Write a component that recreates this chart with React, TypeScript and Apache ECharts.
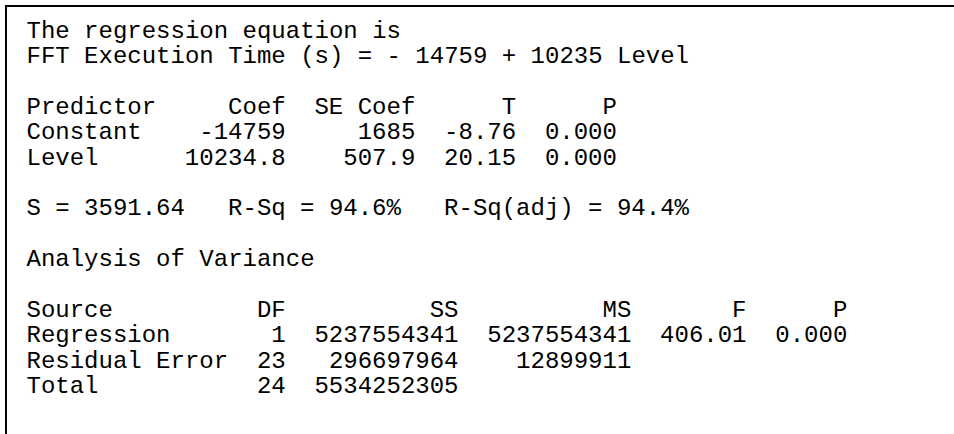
import React, { useEffect, useRef } from "react";
import * as echarts from "echarts";

// ---- data ----
const equationLines = [
  "The regression equation is",
  "FFT Execution Time (s) = - 14759 + 10235 Level",
];

const predictorHeader = ["Predictor", "Coef", "SE Coef", "T", "P"];
const predictors = ["Constant", "Level"];
const coefValues = ["-14759", "10234.8"];
const seCoefValues = ["1685", "507.9"];
const tValues = ["-8.76", "20.15"];
const pValues = ["0.000", "0.000"];

const summaryTexts = ["S = 3591.64", "R-Sq = 94.6%", "R-Sq(adj) = 94.4%"];

const anovaTitle = "Analysis of Variance";
const anovaHeader = ["Source", "DF", "SS", "MS", "F", "P"];
const anovaSources = ["Regression", "Residual Error", "Total"];
const dfValues = ["1", "23", "24"];
const ssValues = ["5237554341", "296697964", "5534252305"];
const msValues = ["5237554341", "12899911", ""];
const fValues = ["406.01", "", ""];
const anovaP = ["0.000", "", ""];

// ---- layout (monospace grid) ----
const FONT_SIZE = 24;
const CHAR_W = FONT_SIZE * 0.6;
const X0 = 26.5;
const LINE0 = 31;
const LINE_H = 25.4;
const FONT = "'Liberation Mono', 'Courier New', monospace";

const predictorColEnds = [18, 27, 34, 41];
const summaryColStarts = [0, 14, 29];
const anovaColEnds = [18, 30, 42, 50, 57];

function txt(s: string, col: number, line: number, align: "left" | "right" = "left") {
  return {
    type: "text",
    x: X0 + col * CHAR_W,
    y: LINE0 + line * LINE_H,
    silent: true,
    style: {
      text: s,
      fill: "#000",
      font: `${FONT_SIZE}px ${FONT}`,
      fontSize: FONT_SIZE,
      fontFamily: FONT,
      textAlign: align,
      textVerticalAlign: "middle",
    },
  };
}

function buildElements() {
  const els: any[] = [];
  // frame: top and left lines
  els.push({ type: "rect", silent: true, shape: { x: 5, y: 5, width: 960, height: 2 }, style: { fill: "#000" } });
  els.push({ type: "rect", silent: true, shape: { x: 5, y: 5, width: 2, height: 440 }, style: { fill: "#000" } });

  equationLines.forEach((s, i) => els.push(txt(s, 0, i)));

  // predictor table
  els.push(txt(predictorHeader[0], 0, 3));
  predictorHeader.slice(1).forEach((h, j) => els.push(txt(h, predictorColEnds[j], 3, "right")));
  predictors.forEach((name, i) => {
    const line = 4 + i;
    els.push(txt(name, 0, line));
    [coefValues[i], seCoefValues[i], tValues[i], pValues[i]].forEach((v, j) => {
      if (v) els.push(txt(v, predictorColEnds[j], line, "right"));
    });
  });

  summaryTexts.forEach((s, j) => els.push(txt(s, summaryColStarts[j], 7)));

  els.push(txt(anovaTitle, 0, 9));

  els.push(txt(anovaHeader[0], 0, 11));
  anovaHeader.slice(1).forEach((h, j) => els.push(txt(h, anovaColEnds[j], 11, "right")));
  anovaSources.forEach((name, i) => {
    const line = 12 + i;
    els.push(txt(name, 0, line));
    [dfValues[i], ssValues[i], msValues[i], fValues[i], anovaP[i]].forEach((v, j) => {
      if (v) els.push(txt(v, anovaColEnds[j], line, "right"));
    });
  });
  return els;
}

export default function App() {
  const ref = useRef<HTMLDivElement>(null);
  useEffect(() => {
    if (!ref.current) return;
    const chart = echarts.init(ref.current, undefined, { renderer: "svg" });
    chart.setOption({
      animation: false,
      backgroundColor: "#ffffff",
      graphic: { elements: buildElements() },
    });
    return () => chart.dispose();
  }, []);
  return (
    <div
      ref={ref}
      style={{ position: "absolute", left: 0, top: 0, width: 954, height: 434, background: "#fff" }}
    />
  );
}
